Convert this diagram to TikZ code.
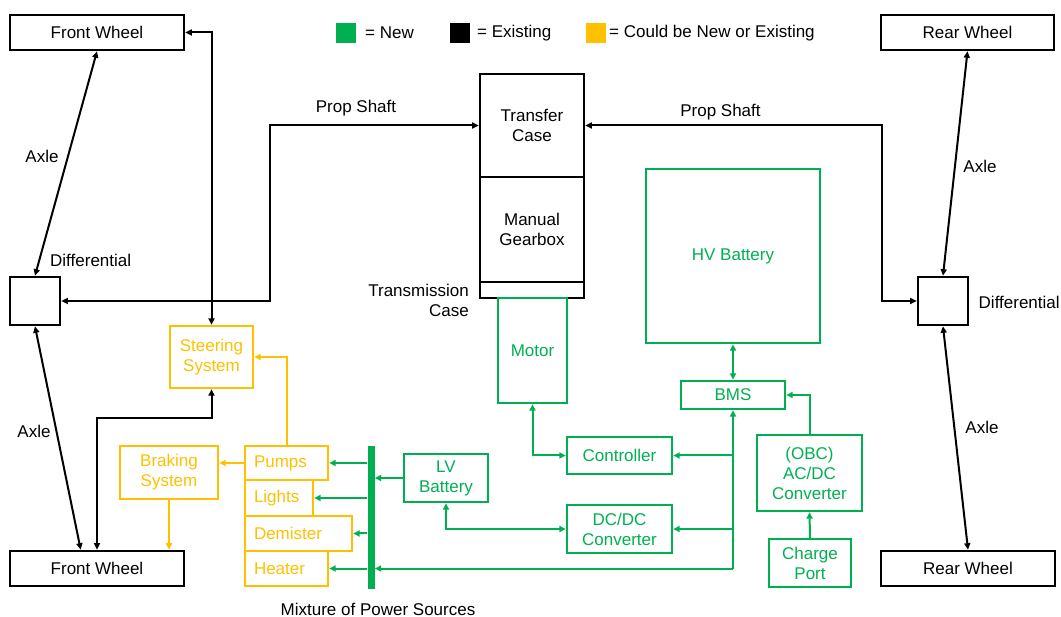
\documentclass[tikz,border=0pt]{standalone}
\usepackage{fontspec}
\setmainfont{Liberation Sans}
\usetikzlibrary{arrows.meta}
\definecolor{newgreen}{HTML}{00B050}
\definecolor{eithery}{HTML}{FFC000}
\begin{document}
\begin{tikzpicture}[x=1pt,y=-1pt,
  every node/.style={font=\fontsize{17}{20}\selectfont},
  >={Triangle[length=6.5pt,width=6pt]},
  box/.style={draw, line width=2.6pt, inner sep=0pt, align=center},
  blkbox/.style={box, draw=black, text=black},
  grnbox/.style={box, draw=newgreen, text=newgreen, line width=2.4pt},
  ylwbox/.style={box, draw=eithery, text=eithery, line width=2.4pt},
  loadbox/.style={ylwbox, align=left, inner xsep=9pt, text width=#1-18pt, minimum width=#1},
  lbl/.style={inner sep=0pt, align=center},
  blkln/.style={draw=black, line width=2pt},
  grnln/.style={draw=newgreen, line width=2pt},
  ylwln/.style={draw=eithery, line width=2pt},
  swatch/.style={minimum width=20pt, minimum height=20pt, inner sep=0pt}]
\useasboundingbox (0,0) rectangle (1061,617);

% legend
\node[swatch, fill=newgreen] (sq1) at (346,33) {};
\node[lbl, anchor=west] (lg1) at (365,33) {= New};
\node[swatch, fill=black] (sq2) at (460,33) {};
\node[lbl, anchor=west] (lg2) at (477,33) {= Existing};
\node[swatch, fill=eithery] (sq3) at (595.5,33) {};
\node[lbl, anchor=west] (lg3) at (609,33) {= Could be New or Existing};

% existing drivetrain
\node[blkbox, minimum width=174pt, minimum height=35pt] (fwt) at (97,32.5) {Front Wheel};
\node[blkbox, minimum width=174pt, minimum height=35pt] (fwb) at (97,568.5) {Front Wheel};
\node[blkbox, minimum width=50pt, minimum height=48pt] (dl) at (35,301) {};
\node[blkbox, minimum width=173pt, minimum height=35pt] (rwt) at (967.5,32.5) {Rear Wheel};
\node[blkbox, minimum width=174pt, minimum height=35pt] (rwb) at (968,568.5) {Rear Wheel};
\node[blkbox, minimum width=50pt, minimum height=48pt] (dr) at (943,301) {};
\node[blkbox, minimum width=104pt, minimum height=103pt] (tc) at (532,125.5) {Transfer\\Case};
\node[blkbox, minimum width=104pt, minimum height=105pt] (mg) at (532,229.5) {Manual\\Gearbox};
\node[blkbox, minimum width=104pt, minimum height=16pt] (tcase) at (532,290) {};

% new electric drive
\node[grnbox, minimum width=69pt, minimum height=105pt] (motor) at (532.5,350.5) {Motor};
\node[grnbox, minimum width=105pt, minimum height=37pt] (ctrl) at (619.5,455.5) {Controller};
\node[grnbox, minimum width=105pt, minimum height=48pt] (dcdc) at (619.5,529) {DC/DC\\Converter};
\node[grnbox, minimum width=84pt, minimum height=48pt] (lvb) at (446,478) {LV\\Battery};
\node[grnbox, minimum width=174pt, minimum height=174pt] (hvb) at (733,256) {HV Battery};
\node[grnbox, minimum width=104pt, minimum height=28pt] (bms) at (733,395) {BMS};
\node[grnbox, minimum width=105pt, minimum height=76pt] (obc) at (809.5,473) {(OBC)\\AC/DC\\Converter};
\node[grnbox, minimum width=82pt, minimum height=48pt] (cp) at (810,563) {Charge\\Port};
\node[fill=newgreen, minimum width=7pt, minimum height=143pt, inner sep=0pt] (bus) at (371,517.5) {};

% ancillary systems
\node[ylwbox, minimum width=83pt, minimum height=62pt] (steer) at (211.5,357) {Steering\\System};
\node[ylwbox, minimum width=98pt, minimum height=53pt] (brake) at (169,472.5) {Braking\\System};
\node[loadbox=83pt, minimum height=34pt] (pumps) at (286.5,463) {Pumps};
\node[loadbox=68pt, minimum height=36pt] (lights) at (279,498) {Lights};
\node[loadbox=107pt, minimum height=35pt] (demister) at (298.5,533.5) {Demister};
\node[loadbox=83pt, minimum height=35pt] (heater) at (286.5,568.5) {Heater};

% text labels
\node[lbl] (ps1) at (356,108) {Prop Shaft};
\node[lbl] (ps2) at (720.5,112) {Prop Shaft};
\node[lbl] (ax1) at (42,156) {Axle};
\node[lbl] (ax2) at (34,431) {Axle};
\node[lbl] (ax3) at (980,166) {Axle};
\node[lbl] (ax4) at (982,427) {Axle};
\node[lbl, anchor=west] (df1) at (50,260) {Differential};
\node[lbl, anchor=west] (df2) at (978.5,302) {Differential};
\node[lbl, align=right, anchor=east] (tcl) at (469,300) {Transmission\\Case};
\node[lbl] (mix) at (378,609) {Mixture of Power Sources};

% mechanical links
\coordinate (psl) at (270,301);
\coordinate (psr) at (882,301);
\draw[blkln,<->] (tc.west) -| (psl) -- (dl.east);
\draw[blkln,<->] (tc.east) -| (psr) -- (dr.west);
\draw[blkln,<->] (fwt.south) -- (dl.north);
\draw[blkln,<->] (dl.south) -- ([xshift=72pt]fwb.north west);
\draw[blkln,<->] (rwt.south) -- (dr.north);
\draw[blkln,<->] (dr.south) -- (rwb.north);
\draw[blkln,<->] (fwt.east) -| (steer.north);
\coordinate (stj) at (97,418);
\draw[blkln,<->] (fwb.north) -- (stj) -| (steer.south);

% ancillary links
\draw[ylwln,->] (pumps.north) |- (steer.east);
\draw[ylwln,->] (pumps.west) -- (pumps.west -| brake.east);
\draw[ylwln,->] (brake.south) -- (brake.south |- fwb.north);

% power distribution
\draw[grnln,->] (pumps.east -| bus.west) -- (pumps.east);
\draw[grnln,->] (lights.east -| bus.west) -- (lights.east);
\draw[grnln,->] (demister.east -| bus.west) -- (demister.east);
\draw[grnln,->] (heater.east -| bus.west) -- (heater.east);
\draw[grnln,->] (lvb.west) -- (lvb.west -| bus.east);
\draw[grnln,<->] (lvb.south) |- (dcdc.west);
\draw[grnln,<->] (motor.south) |- (ctrl.west);
\draw[grnln,<->] (hvb.south) -- (bms.north);
\coordinate (bmsj) at (bms.south |- heater.east);
\draw[grnln,->] (bmsj) -- (bms.south);
\draw[grnln,->] (bmsj) -- (bmsj -| bus.east);
\draw[grnln,->] (bms.south |- ctrl.east) -- (ctrl.east);
\draw[grnln,->] (bms.south |- dcdc.east) -- (dcdc.east);
\draw[grnln,->] (obc.north) |- (bms.east);
\draw[grnln,->] (cp.north) -- (obc.south);
\end{tikzpicture}
\end{document}
